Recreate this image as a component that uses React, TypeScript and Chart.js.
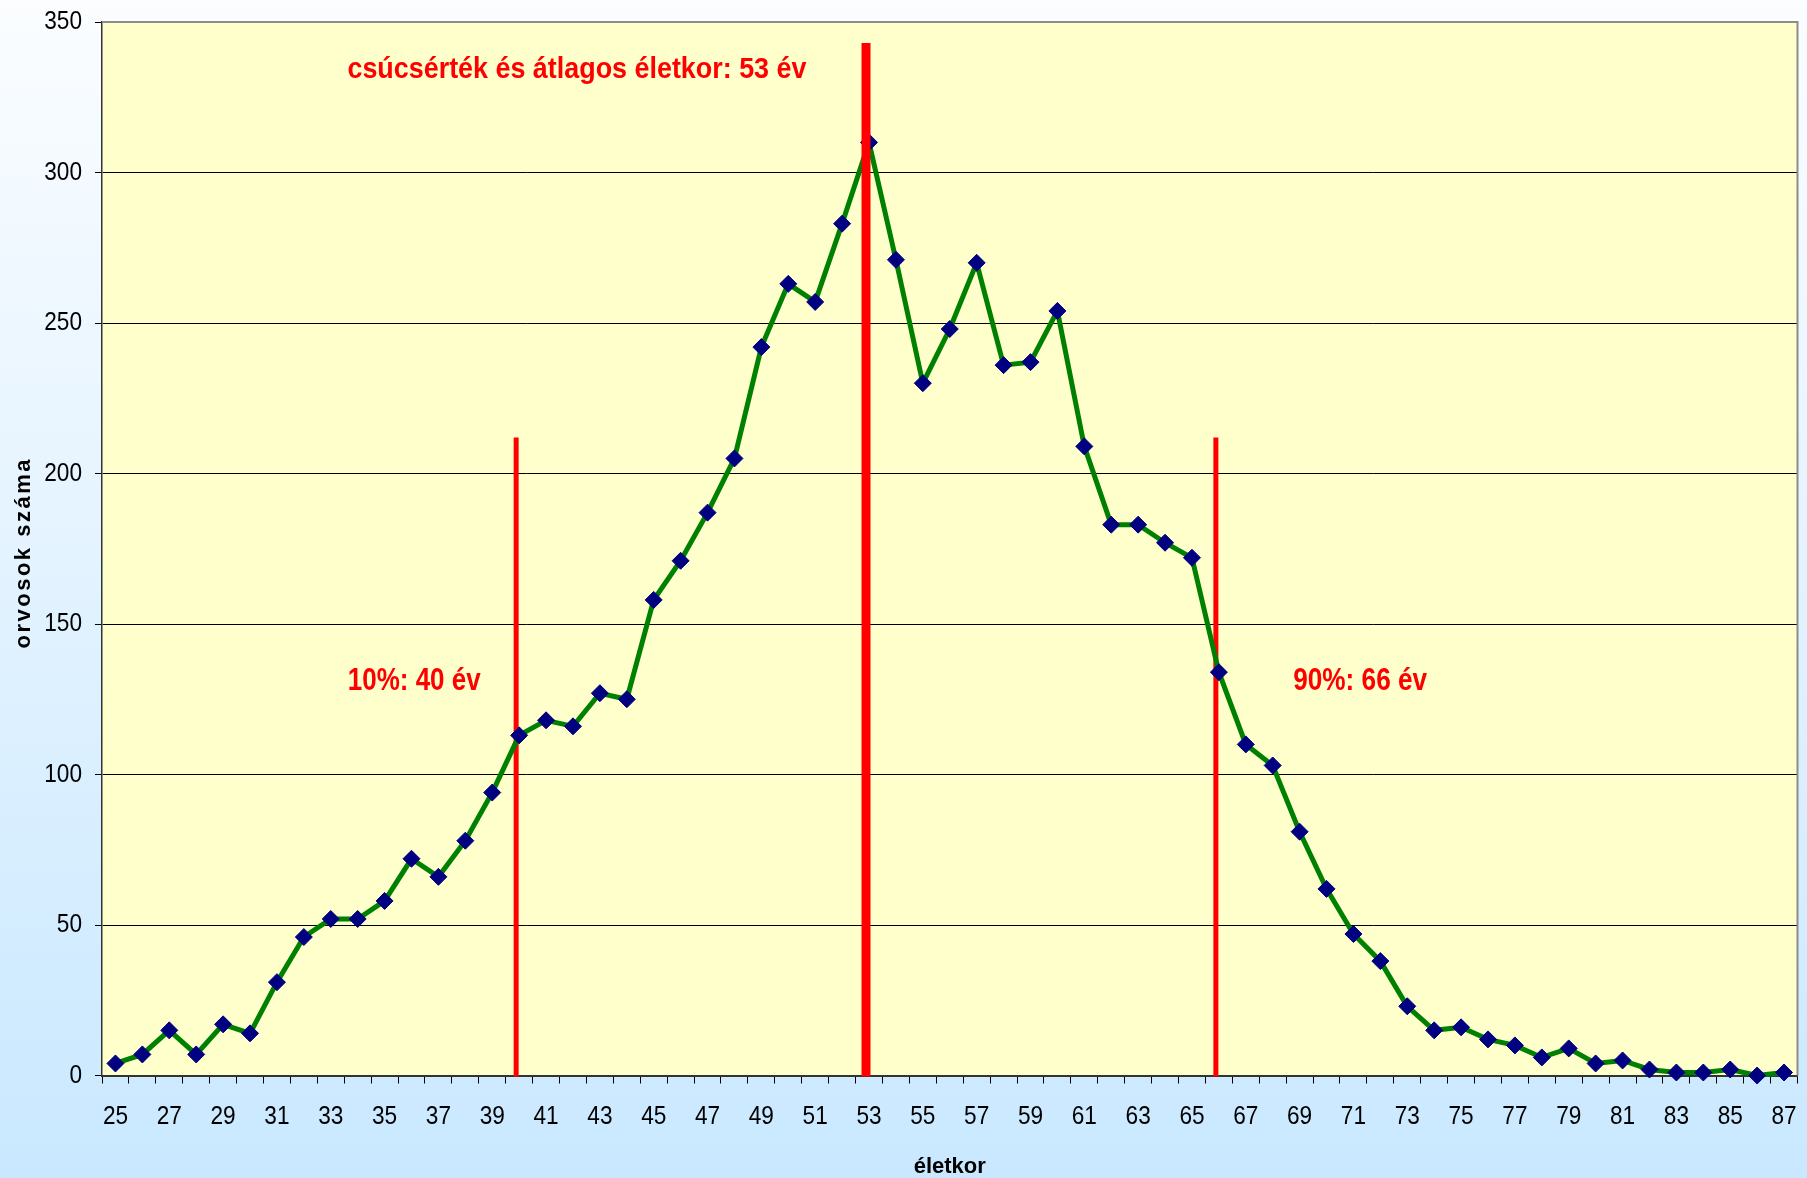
import React, { useEffect, useRef } from 'react';
import { Chart, registerables } from 'chart.js';

Chart.register(...registerables);

const ages = [
  '25', '26', '27', '28', '29', '30', '31', '32', '33', '34', '35', '36', '37', '38', '39', '40',
  '41', '42', '43', '44', '45', '46', '47', '48', '49', '50', '51', '52', '53', '54', '55', '56',
  '57', '58', '59', '60', '61', '62', '63', '64', '65', '66', '67', '68', '69', '70', '71', '72',
  '73', '74', '75', '76', '77', '78', '79', '80', '81', '82', '83', '84', '85', '86', '87',
];

const doctorCounts = [
  4, 7, 15, 7, 17, 14, 31, 46, 52, 52, 58, 72, 66, 78, 94, 113,
  118, 116, 127, 125, 158, 171, 187, 205, 242, 263, 257, 283, 310, 271, 230, 248,
  270, 236, 237, 254, 209, 183, 183, 177, 172, 134, 110, 103, 81, 62, 47, 38,
  23, 15, 16, 12, 10, 6, 9, 4, 5, 2, 1, 1, 2, 0, 1,
];

const yMin = 0;
const yMax = 350;
const yStep = 50;

// vertical reference lines: age and the value where each line ends
const markerAges = ['40', '53', '66'];
const markerTops = [212, 343, 212];

const annotationTexts = ['csúcsérték és átlagos életkor: 53 év', '10%: 40 év', '90%: 66 év'];

const xTitle = 'életkor';
const yTitle = 'orvosok száma';

const FONT = "'Liberation Sans', Arial, sans-serif";

export default function App() {
  const ref = useRef<HTMLCanvasElement>(null);

  useEffect(() => {
    document.body.style.margin = '0';
    const canvas = ref.current!;

    const bgPlugin = {
      id: 'bgPlugin',
      beforeDraw(chart: any) {
        const { ctx, width, height, chartArea: ca } = chart;
        ctx.save();
        const g = ctx.createLinearGradient(0, 0, 0, height);
        g.addColorStop(0, '#fbfdff');
        g.addColorStop(1, '#c9e8ff');
        ctx.fillStyle = g;
        ctx.fillRect(0, 0, width, height);
        ctx.fillStyle = '#ffffcc';
        ctx.fillRect(ca.left, ca.top, ca.right - ca.left, ca.bottom - ca.top);
        ctx.restore();
      },
      beforeDatasetsDraw(chart: any) {
        const { ctx, chartArea: ca } = chart;
        ctx.save();
        ctx.strokeStyle = '#8c8c8c';
        ctx.lineWidth = 2;
        ctx.beginPath();
        ctx.moveTo(ca.left, ca.top);
        ctx.lineTo(ca.right, ca.top);
        ctx.lineTo(ca.right, ca.bottom);
        ctx.stroke();
        const xs = chart.scales.x;
        const ys = chart.scales.y;
        markerAges.forEach((a, i) => {
          if (i === 1) return;
          const x = xs.getPixelForValue(ages.indexOf(a)) - 3;
          ctx.strokeStyle = '#ff0000';
          ctx.lineWidth = 5;
          ctx.beginPath();
          ctx.moveTo(x, ys.getPixelForValue(markerTops[i]));
          ctx.lineTo(x, ys.getPixelForValue(0) + 1);
          ctx.stroke();
        });
        ctx.restore();
      },
      afterDatasetsDraw(chart: any) {
        const { ctx, chartArea: ca } = chart;
        const xs = chart.scales.x;
        const ys = chart.scales.y;
        ctx.save();
        const i = 1;
        const x = xs.getPixelForValue(ages.indexOf(markerAges[i])) - 3;
        ctx.strokeStyle = '#ff0000';
        ctx.lineWidth = 9;
        ctx.beginPath();
        ctx.moveTo(x, ys.getPixelForValue(markerTops[i]));
        ctx.lineTo(x, ys.getPixelForValue(0) + 1);
        ctx.stroke();

        const anchors = [
          { idx: 8.62, val: 331.3, w: 459, size: 29 },
          { idx: 8.63, val: 128.1, w: 133, size: 32 },
          { idx: 43.76, val: 128.1, w: 134, size: 32 },
        ];
        ctx.fillStyle = '#ff0000';
        ctx.textAlign = 'left';
        ctx.textBaseline = 'alphabetic';
        annotationTexts.forEach((t, k) => {
          const a = anchors[k];
          ctx.font = `bold ${a.size}px ${FONT}`;
          const px = xs.getPixelForValue(a.idx);
          const py = ys.getPixelForValue(a.val);
          const m = ctx.measureText(t).width;
          ctx.save();
          ctx.translate(px, py);
          ctx.scale(a.w / m, 1);
          ctx.fillText(t, 0, 0);
          ctx.restore();
        });
        ctx.restore();
      },
      afterDraw(chart: any) {
        const { ctx, chartArea: ca } = chart;
        const xs = chart.scales.x;
        const ys = chart.scales.y;
        ctx.save();
        ctx.fillStyle = '#000';
        ctx.font = `26px ${FONT}`;
        ctx.textBaseline = 'middle';
        // x tick labels (condensed)
        ctx.textAlign = 'center';
        xs.ticks.forEach((t: any, i: number) => {
          const lab = i % 2 === 0 ? ages[i] : '';
          if (!lab) return;
          ctx.save();
          ctx.translate(xs.getPixelForTick(i), xs.top + 41);
          ctx.scale(0.87, 1);
          ctx.fillText(lab, 0, 0);
          ctx.restore();
        });
        // y tick labels (condensed)
        ctx.textAlign = 'right';
        ys.ticks.forEach((t: any) => {
          ctx.save();
          ctx.translate(ys.right - 20, ys.getPixelForValue(t.value));
          ctx.scale(0.87, 1);
          ctx.fillText(String(t.value), 0, 0);
          ctx.restore();
        });
        // y axis title
        ctx.font = `bold 22px ${FONT}`;
        (ctx as any).letterSpacing = '2.5px';
        ctx.textAlign = 'center';
        ctx.translate(24, (ca.top + ca.bottom) / 2 + 5);
        ctx.rotate(-Math.PI / 2);
        ctx.fillText(yTitle, 1, 0);
        ctx.restore();
      },
    };

    const chart = new Chart(canvas, {
      type: 'line',
      data: {
        labels: ages,
        datasets: [
          {
            data: doctorCounts,
            borderColor: '#008000',
            borderWidth: 5,
            tension: 0,
            pointStyle: 'rectRot',
            pointRadius: 8.5,
            pointBackgroundColor: '#000080',
            pointBorderColor: '#000080',
            pointBorderWidth: 1,
            clip: false as any,
          },
        ],
      },
      options: {
        animation: false,
        responsive: false,
        devicePixelRatio: 1,
        layout: { padding: { left: 0, top: 22, right: 5, bottom: 0 } },
        plugins: {
          legend: { display: false },
          tooltip: { enabled: false },
        },
        scales: {
          x: {
            type: 'category',
            offset: true,
            afterFit: (s: any) => {
              s.height = 102.5;
              s.paddingLeft = 0;
              s.paddingRight = 0;
              s.paddingTop = 0;
              s.paddingBottom = 0;
            },
            grid: {
              offset: true,
              drawOnChartArea: false,
              drawTicks: true,
              tickLength: 8,
              tickColor: '#000',
              tickWidth: 1,
            },
            border: { color: '#333', width: 2 },
            ticks: {
              autoSkip: false,
              maxRotation: 0,
              minRotation: 0,
              padding: 14,
              color: 'rgba(0,0,0,0)',
              font: { size: 26, family: FONT },
              callback: (_v: any, i: number) => (i % 2 === 0 ? ages[i] : ''),
            },
            title: {
              display: true,
              text: xTitle,
              color: '#000',
              font: { size: 22, weight: 'bold', family: FONT, lineHeight: 1 },
              padding: { top: 0, bottom: 0 },
            },
          },
          y: {
            min: yMin,
            max: yMax,
            afterFit: (s: any) => {
              s.width = 102;
              s.paddingLeft = 0;
              s.paddingRight = 0;
              s.paddingTop = 0;
              s.paddingBottom = 0;
            },
            grid: {
              color: (c: any) => (c.tick && c.tick.value === yMax ? 'rgba(0,0,0,0)' : '#000'),
              lineWidth: 1,
              drawTicks: true,
              tickLength: 7,
              tickColor: '#000',
            },
            border: { color: '#333', width: 1.5 },
            ticks: {
              stepSize: yStep,
              padding: 13,
              color: 'rgba(0,0,0,0)',
              font: { size: 26, family: FONT },
            },
          },
        },
      },
      plugins: [bgPlugin],
    });

    return () => chart.destroy();
  }, []);

  return (
    <div style={{ width: 1807, height: 1178 }}>
      <canvas ref={ref} width={1807} height={1178} style={{ display: 'block' }} />
    </div>
  );
}
